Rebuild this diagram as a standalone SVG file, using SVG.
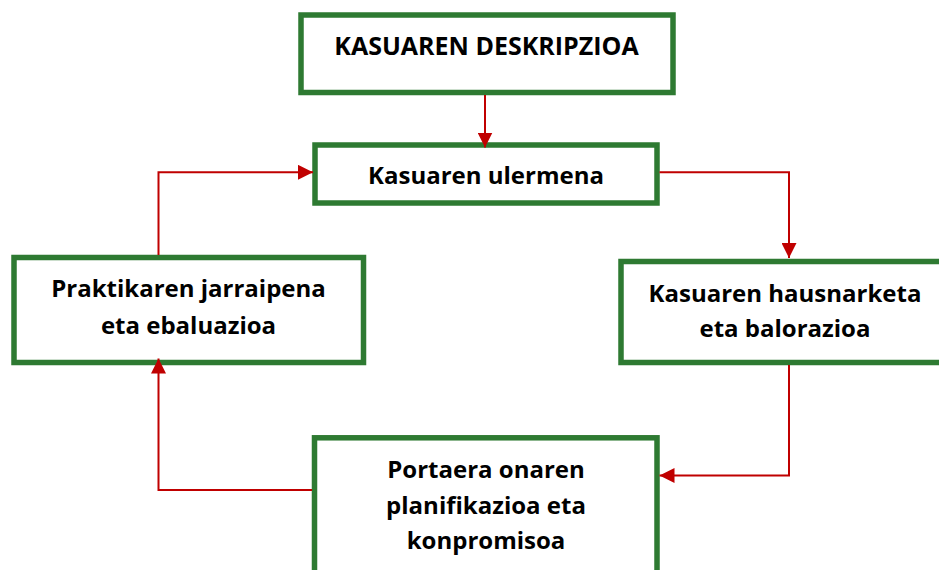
<svg xmlns="http://www.w3.org/2000/svg" width="939" height="570" viewBox="0 0 939 570">
<style>
.box{fill:#ffffff;stroke:#2E7A32;stroke-width:5.5}
.t{font-family:"Open Sans","Noto Sans","DejaVu Sans",sans-serif;font-weight:bold;font-size:24px;fill:#000000;text-anchor:middle}
.c{fill:none;stroke:#C00000;stroke-width:2}
</style>
<defs>
<marker id="ah" markerUnits="userSpaceOnUse" markerWidth="15" markerHeight="15" refX="15" refY="7.5" orient="auto">
<path d="M0,0 L15,7.5 L0,15 Z" fill="#C00000"/>
</marker>
</defs>
<rect width="939" height="570" fill="#ffffff"/>
<g id="node-descripcion">
<rect class="box" x="301" y="15" width="372" height="77.5"/>
<text class="t" x="486.5" y="55" style="font-size:25px">KASUAREN DESKRIPZIOA</text>
</g>
<g id="node-ulermena">
<rect class="box" x="315" y="145" width="342" height="58"/>
<text class="t" x="486" y="184.3">Kasuaren ulermena</text>
</g>
<g id="node-hausnarketa">
<rect class="box" x="621" y="261.5" width="328" height="101"/>
<text class="t" x="785" y="301.7">Kasuaren hausnarketa</text>
<text class="t" x="785" y="337.3">eta balorazioa</text>
</g>
<g id="node-jarraipena">
<rect class="box" x="14" y="257.5" width="349.5" height="105"/>
<text class="t" x="188.5" y="297.3">Praktikaren jarraipena</text>
<text class="t" x="188.5" y="334">eta ebaluazioa</text>
</g>
<g id="node-planifikazioa">
<rect class="box" x="314.5" y="437.8" width="342.5" height="170"/>
<text class="t" x="486" y="478.3">Portaera onaren</text>
<text class="t" x="486" y="514">planifikazioa eta</text>
<text class="t" x="486" y="549.3">konpromisoa</text>
</g>
<g id="connectors">
<path class="c" d="M485,95 L485,147.5" marker-end="url(#ah)"/>
<path class="c" d="M158.5,255 L158.5,172.3 L313,172.3" marker-end="url(#ah)"/>
<path class="c" d="M659.5,172.3 L789,172.3 L789,258" marker-end="url(#ah)"/>
<path class="c" d="M789,365 L789,475.5 L659.5,475.5" marker-end="url(#ah)"/>
<path class="c" d="M312,490 L158.5,490 L158.5,358.5" marker-end="url(#ah)"/>
</g>
</svg>
